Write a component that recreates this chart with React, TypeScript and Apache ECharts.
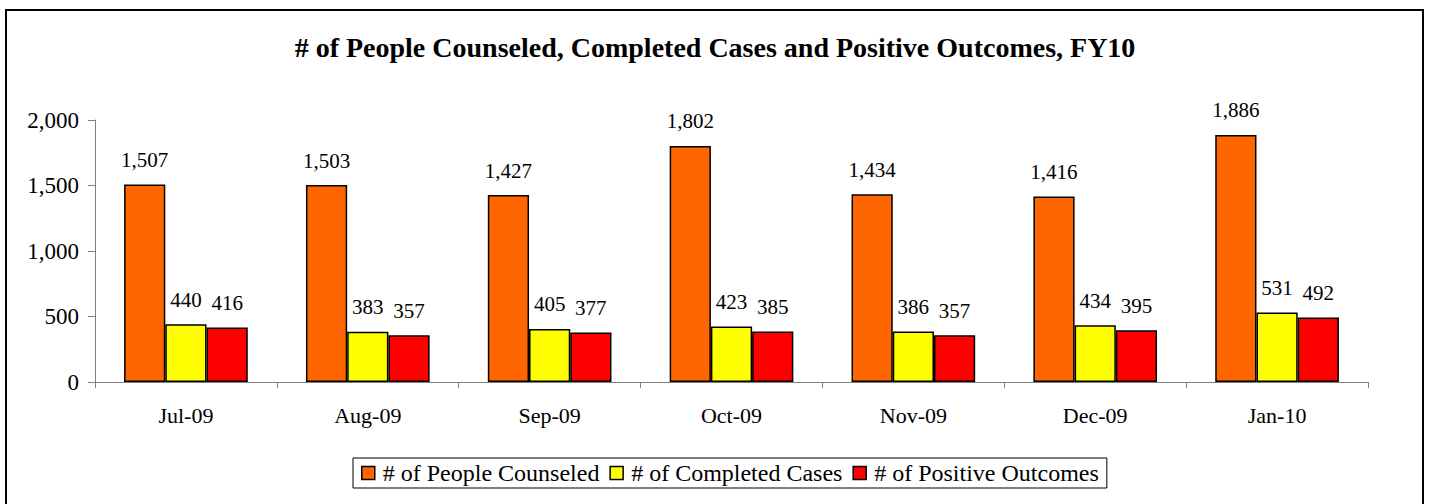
import React, { useEffect, useRef } from "react";
import * as echarts from "echarts";

const categories = ["Jul-09", "Aug-09", "Sep-09", "Oct-09", "Nov-09", "Dec-09", "Jan-10"];
const peopleCounseled = [1507, 1503, 1427, 1802, 1434, 1416, 1886];
const completedCases = [440, 383, 405, 423, 386, 434, 531];
const positiveOutcomes = [416, 357, 377, 385, 357, 395, 492];
const yTicks = [0, 500, 1000, 1500, 2000];

const FONT = "'Liberation Serif', 'Times New Roman', serif";
const fmt = (v: number) => v.toLocaleString("en-US");

export default function App() {
  const ref = useRef<HTMLDivElement>(null);
  useEffect(() => {
    document.body.style.margin = "0";
    const chart = echarts.init(ref.current!, null, { renderer: "svg" });
    const label = {
      show: true,
      position: "top" as const,
      distance: 14,
      color: "#000",
      fontFamily: FONT,
      fontSize: 21,
      formatter: (p: any) => fmt(p.value),
    };
    const mk = (name: string, data: number[], color: string) => ({
      name,
      type: "bar" as const,
      data,
      barGap: "0%",
      barCategoryGap: "32%",
      itemStyle: { color, borderColor: "#000", borderWidth: 1.5 },
      label,
    });
    chart.setOption({
      animation: false,
      backgroundColor: "#fff",
      textStyle: { fontFamily: FONT },
      title: {
        text: "# of People Counseled, Completed Cases and Positive Outcomes, FY10",
        left: "center",
        top: 28,
        textStyle: { fontFamily: FONT, fontSize: 28, fontWeight: "bold", color: "#000" },
      },
      graphic: [
        {
          type: "rect",
          shape: { x: 6, y: 10, width: 1417, height: 600 },
          style: { fill: "none", stroke: "#000", lineWidth: 2 },
          silent: true,
        },
      ],
      legend: {
        top: 458,
        left: 353,
        itemWidth: 13,
        itemHeight: 13,
        itemGap: 10,
        padding: [3, 8, 3, 8],
        borderColor: "#000",
        borderWidth: 1,
        icon: "rect",
        textStyle: { fontFamily: FONT, fontSize: 24, color: "#000", padding: [0, 0, 0, 3] },
        itemStyle: { borderColor: "#000", borderWidth: 1.5 },
      },
      grid: { left: 95, right: 62, top: 120, bottom: 122 },
      xAxis: {
        type: "category",
        data: categories,
        axisLine: { lineStyle: { color: "#808080", width: 1 } },
        axisTick: { show: true, length: 6, lineStyle: { color: "#808080" } },
        axisLabel: { color: "#000", fontFamily: FONT, fontSize: 22, margin: 22 },
      },
      yAxis: {
        type: "value",
        min: yTicks[0],
        max: yTicks[yTicks.length - 1],
        interval: 500,
        splitLine: { show: false },
        axisLine: { show: true, lineStyle: { color: "#808080", width: 1 } },
        axisTick: { show: true, length: 7, lineStyle: { color: "#808080" } },
        axisLabel: {
          color: "#000",
          fontFamily: FONT,
          fontSize: 23,
          margin: 16,
          formatter: (v: number) => fmt(v),
        },
      },
      series: [
        mk("# of People Counseled", peopleCounseled, "#FF6600"),
        mk("# of Completed Cases", completedCases, "#FFFF00"),
        mk("# of Positive Outcomes", positiveOutcomes, "#FF0000"),
      ],
    });
    return () => chart.dispose();
  }, []);
  return <div ref={ref} style={{ width: 1430, height: 504 }} />;
}
